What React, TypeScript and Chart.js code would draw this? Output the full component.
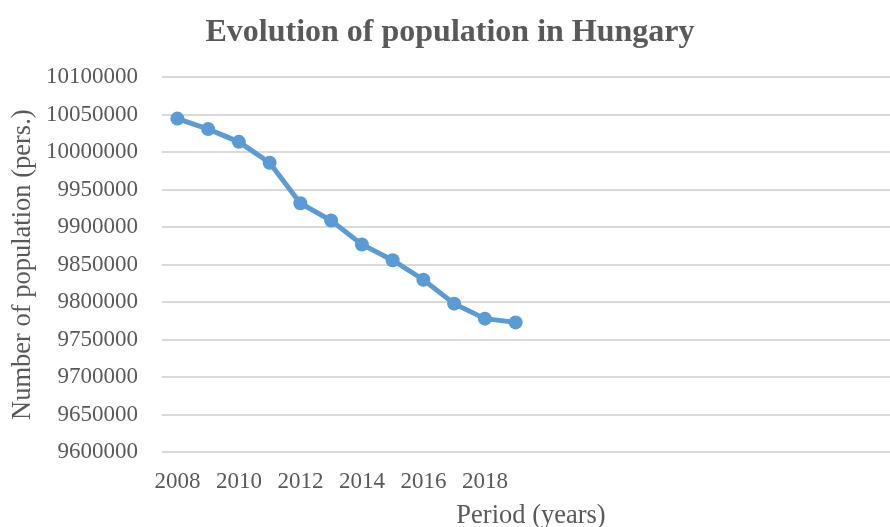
import React, { useEffect, useRef } from "react";
import { Chart, registerables } from "chart.js";

Chart.register(...registerables);

const years = [2008, 2009, 2010, 2011, 2012, 2013, 2014, 2015, 2016, 2017, 2018, 2019];
const population = [
  10045000, 10031000, 10014000, 9986000, 9932000, 9909000,
  9877000, 9856000, 9830000, 9798000, 9778000, 9773000,
];
const xTickYears = [2008, 2010, 2012, 2014, 2016, 2018];
const titleText = "Evolution of population in Hungary";
const xTitle = "Period (years)";
const yTitle = "Number of population (pers.)";

const FONT = '"Liberation Serif", "Times New Roman", serif';
const GREY = "#595959";
const BLUE = "#5b9bd5";

export default function App() {
  const ref = useRef<HTMLCanvasElement | null>(null);

  useEffect(() => {
    document.body.style.margin = "0";
    const canvas = ref.current;
    if (!canvas) return;
    const chart = new Chart(canvas, {
      type: "scatter",
      data: {
        datasets: [
          {
            label: "Population",
            data: years.map((y, i) => ({ x: y, y: population[i] })),
            showLine: true,
            borderColor: BLUE,
            backgroundColor: BLUE,
            borderWidth: 5,
            pointRadius: 7,
            pointBorderWidth: 0,
            pointBackgroundColor: BLUE,
            tension: 0,
          },
        ],
      },
      options: {
        responsive: false,
        animation: false,
        devicePixelRatio: 1,
        layout: { padding: { left: 0, right: 8, top: 0, bottom: 0 } },
        plugins: {
          legend: { display: false },
          tooltip: { enabled: false },
          title: {
            display: true,
            text: titleText,
            color: GREY,
            font: { family: FONT, size: 32, weight: "bold" },
            padding: { top: 14, bottom: 25 },
          },
        },
        scales: {
          x: {
            type: "linear",
            min: 2007.5,
            max: 2031.5,
            grid: { display: false, drawTicks: false },
            border: { display: false },
            afterBuildTicks: (scale: any) => {
              scale.ticks = xTickYears.map((v) => ({ value: v }));
            },
            afterFit: (scale: any) => {
              scale.height = 88;
            },
            ticks: {
              autoSkip: false,
              maxRotation: 0,
              padding: 16,
              color: GREY,
              font: { family: FONT, size: 23 },
              callback: (v: any) => String(v),
            },
            title: {
              display: true,
              text: xTitle,
              color: GREY,
              font: { family: FONT, size: 26.5 },
              padding: { top: 0, bottom: 8 },
            },
          },
          y: {
            min: 9600000,
            max: 10100000,
            grid: { color: "#d9d9d9", lineWidth: 2, drawTicks: false },
            border: { display: false },
            afterFit: (scale: any) => {
              scale.width = 162;
            },
            ticks: {
              stepSize: 50000,
              padding: 24,
              color: GREY,
              font: { family: FONT, size: 23 },
              callback: (v: any) => String(v),
            },
            title: {
              display: true,
              text: yTitle,
              color: GREY,
              font: { family: FONT, size: 26.5 },
              padding: { top: 7, bottom: 4 },
            },
          },
        },
      },
    });
    return () => chart.destroy();
  }, []);

  return (
    <div style={{ width: 890, height: 527, overflow: "hidden", position: "relative" }}>
      <canvas ref={ref} width={908} height={540} style={{ display: "block" }} />
    </div>
  );
}
